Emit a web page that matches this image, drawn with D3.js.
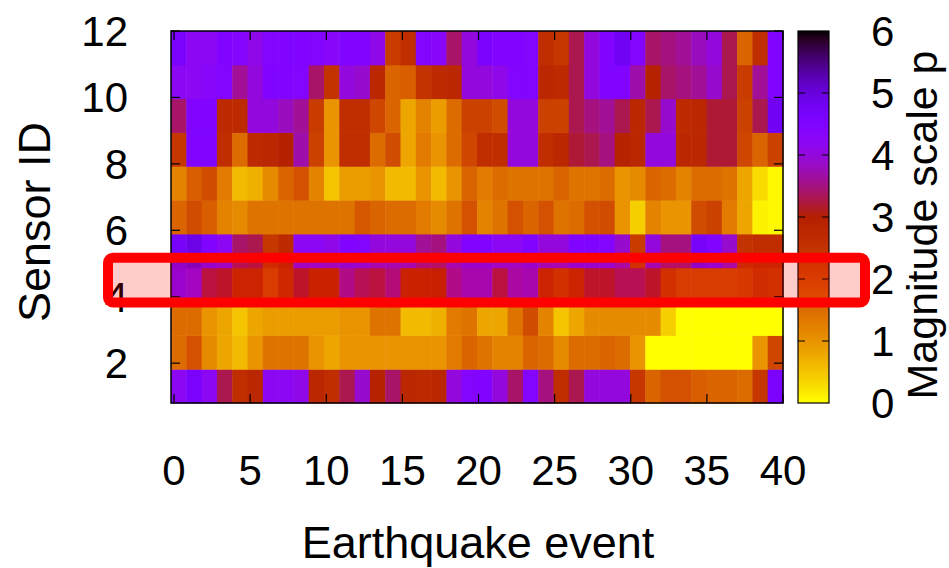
<!DOCTYPE html>
<html>
<head>
<meta charset="utf-8">
<script src="https://cdn.jsdelivr.net/npm/d3@7/dist/d3.min.js"></script>
<style>
  html, body { margin: 0; padding: 0; background: #fff; }
  svg { display: block; }
  text { font-family: "Liberation Sans", Arial, sans-serif; fill: #000; }
</style>
</head>
<body>
<svg id="chart" width="949" height="568"></svg>
<script>
// Earthquake events (columns) and sensor IDs (rows)
const events = d3.range(0, 40);
const sensors = [1, 2, 3, 4, 5, 6, 7, 8, 9, 10, 11];

// Magnitude scale p per sensor, one value per earthquake event
const sensor1 = [4.2,4.6,4.2,3.3,2.6,2.8,4.2,4.2,4.1,2.8, 2.6,3.3,3.9,2.9,3.4,2.8,2.7,2.8,4.0,4.4, 4.5,4.0,3.4,4.4,3.5,2.6,3.3,4.0,4.0,4.0, 2.4,1.6,1.9,1.9,1.7,1.6,1.6,1.5,2.4,4.6];
const sensor2 = [1.5,1.9,1.1,0.8,0.6,1.0,1.4,1.4,1.4,1.0, 0.8,1.0,1.0,1.0,1.0,1.0,1.0,1.0,1.3,1.6, 1.4,1.2,1.2,1.6,1.5,1.1,1.5,1.5,1.6,1.5, 1.0,0.0,0.0,0.0,0.0,0.0,0.0,0.0,1.0,2.1];
const sensor3 = [1.5,1.5,1.0,0.8,0.5,0.8,0.9,0.9,0.9,0.9, 0.9,1.0,1.0,1.4,1.4,0.6,0.6,0.7,1.3,1.4, 0.8,0.8,1.4,2.0,1.2,0.5,0.8,1.1,1.1,1.1, 1.1,1.1,0.4,0.0,0.0,0.0,0.0,0.0,0.0,0.0];
const sensor4 = [4.5,4.2,3.3,3.2,2.6,2.6,2.0,2.5,3.2,2.7, 2.7,3.7,3.4,3.3,3.6,2.7,2.7,2.8,3.7,4.0, 4.0,3.3,3.9,4.0,2.6,2.3,2.6,3.2,3.2,3.4, 3.4,3.2,2.3,2.0,2.0,2.0,2.0,2.1,2.4,2.3];
const sensor5 = [4.7,4.9,4.5,4.2,3.4,3.3,2.4,2.7,4.2,4.2, 4.1,4.5,4.4,4.0,4.0,4.0,3.6,3.5,4.0,4.5, 4.5,4.2,4.2,4.5,4.0,4.0,4.5,4.5,4.4,3.9, 2.3,4.0,3.5,3.5,4.7,4.5,3.9,2.5,2.6,2.6];
const sensor6 = [1.6,2.0,1.7,1.2,1.1,1.4,1.4,1.4,1.4,1.4, 1.4,1.4,1.8,1.6,1.5,1.5,1.3,1.1,1.4,1.9, 1.2,1.4,1.9,1.6,1.9,1.4,1.5,1.9,2.0,1.0, 0.4,1.2,1.0,1.0,2.0,2.2,1.3,0.8,0.1,0.05];
const sensor7 = [1.2,1.7,2.0,1.3,0.6,0.7,1.1,1.6,1.9,1.2, 0.5,0.9,0.9,1.0,0.6,0.6,1.0,0.6,1.0,1.6, 1.3,1.5,1.4,1.4,1.4,1.6,1.4,1.4,1.5,1.0, 1.1,1.6,1.5,1.2,1.5,1.5,1.4,0.8,0.3,0.05];
const sensor8 = [2.4,4.5,4.5,2.6,1.5,2.7,2.8,3.0,3.7,2.2, 1.0,2.6,2.6,1.5,2.0,0.8,1.3,1.0,1.5,2.1, 2.6,2.6,4.0,4.0,2.6,2.8,3.2,3.3,3.5,2.9, 2.8,4.0,4.0,2.8,2.8,3.2,3.2,2.1,1.6,2.2];
const sensor9 = [3.4,4.5,4.5,2.7,2.7,4.0,4.0,3.8,3.6,2.3, 1.0,2.6,2.6,2.1,1.6,0.8,1.2,0.9,1.5,2.2, 2.2,2.0,4.0,4.0,2.2,2.2,3.3,3.5,3.6,3.3, 2.8,3.3,3.9,2.7,2.8,3.2,3.2,2.2,3.3,4.8];
const sensor10 = [4.2,4.2,4.3,4.4,3.6,4.0,4.5,4.5,4.4,3.4, 2.5,4.0,3.9,2.8,1.6,1.7,2.5,2.7,2.8,4.0, 4.0,4.1,4.4,4.4,2.8,2.7,3.3,4.0,4.5,4.5, 3.7,2.9,3.4,3.5,3.6,3.9,3.3,2.3,3.6,4.5];
const sensor11 = [4.6,4.2,4.2,4.5,4.4,4.1,4.4,4.5,4.5,4.4, 4.3,4.5,4.5,4.1,2.3,2.6,4.4,4.3,3.4,4.0, 4.6,4.5,4.5,4.4,2.6,2.4,3.3,4.0,4.5,4.8, 4.4,3.4,3.5,3.6,3.8,4.0,3.3,1.6,2.6,4.5];

// Tick labels
const xTicks = [0, 5, 10, 15, 20, 25, 30, 35, 40];
const yTicks = [2, 4, 6, 8, 10, 12];
const cbTicks = [0, 1, 2, 3, 4, 5, 6];

// Sensor row highlighted by the annotation box
const highlightSensor = 4;

const rows = [sensor1, sensor2, sensor3, sensor4, sensor5, sensor6,
              sensor7, sensor8, sensor9, sensor10, sensor11];
const cells = [];
rows.forEach((vals, r) => vals.forEach((v, c) => cells.push({ sensor: sensors[r], event: events[c], value: v })));

const svg = d3.select("#chart");
const FONT = 42;
const TITLE_FONT = 45;

// Plot frame
const plot = { left: 171, right: 783, top: 31, bottom: 403 };

const x = d3.scaleLinear().domain([-0.2, 40]).range([plot.left, plot.right]);
const y = d3.scaleLinear().domain([0.8, 12]).range([plot.bottom, plot.top]);
const xBand = d3.scaleBand().domain(events).range([plot.left, plot.right]);
const yBand = d3.scaleBand().domain(sensors).range([plot.bottom, plot.top]);

// Reversed gnuplot rgbformulae 7,5,15 palette: yellow -> orange -> red -> violet -> black
const paletteInterp = t => {
  const r = Math.sqrt(t), g = Math.pow(t, 3), b = Math.max(0, Math.sin(2 * Math.PI * t));
  return d3.rgb(r * 255, g * 255, b * 255).toString();
};
const color = d3.scaleSequential(paletteInterp).domain([6, 0]);

// Heatmap cells
svg.append("g").selectAll("rect").data(cells).join("rect")
  .attr("x", d => xBand(d.event))
  .attr("y", d => yBand(d.sensor))
  .attr("width", xBand.bandwidth() + 0.5)
  .attr("height", yBand.bandwidth() + 0.5)
  .attr("fill", d => color(d.value));

// Frame
svg.append("rect")
  .attr("x", plot.left).attr("y", plot.top)
  .attr("width", plot.right - plot.left).attr("height", plot.bottom - plot.top)
  .attr("fill", "none").attr("stroke", "#000").attr("stroke-width", 1.5);

// Inward tick marks on all four sides
const TL = 9;
const tickG = svg.append("g").attr("stroke", "#000").attr("stroke-width", 1.2);
xTicks.forEach(t => {
  tickG.append("line").attr("x1", x(t)).attr("x2", x(t)).attr("y1", plot.bottom).attr("y2", plot.bottom - TL);
  tickG.append("line").attr("x1", x(t)).attr("x2", x(t)).attr("y1", plot.top).attr("y2", plot.top + TL);
});
yTicks.forEach(t => {
  tickG.append("line").attr("x1", plot.left).attr("x2", plot.left + TL).attr("y1", y(t)).attr("y2", y(t));
  tickG.append("line").attr("x1", plot.right).attr("x2", plot.right - TL).attr("y1", y(t)).attr("y2", y(t));
});

// Tick labels
svg.append("g").selectAll("text").data(xTicks).join("text")
  .attr("x", d => x(d)).attr("y", 485)
  .attr("text-anchor", "middle").attr("font-size", FONT)
  .text(d => d);
svg.append("g").selectAll("text").data(yTicks).join("text")
  .attr("x", 128).attr("y", d => y(d) + 15)
  .attr("text-anchor", "end").attr("font-size", FONT)
  .text(d => d);

// Axis titles
svg.append("text").attr("x", 478).attr("y", 558)
  .attr("text-anchor", "middle").attr("font-size", TITLE_FONT)
  .text("Earthquake event");
svg.append("text").attr("transform", "translate(50,222) rotate(-90)")
  .attr("text-anchor", "middle").attr("font-size", TITLE_FONT)
  .text("Sensor ID");

// Colour bar
const cb = { left: 798, right: 829, top: 31, bottom: 403 };
const cbY = d3.scaleLinear().domain([0, 6]).range([cb.bottom, cb.top]);
const grad = svg.append("defs").append("linearGradient")
  .attr("id", "cbgrad").attr("x1", 0).attr("y1", 1).attr("x2", 0).attr("y2", 0);
d3.range(0, 6.001, 0.1).forEach(v => {
  grad.append("stop").attr("offset", v / 6).attr("stop-color", color(v));
});
svg.append("rect")
  .attr("x", cb.left).attr("y", cb.top)
  .attr("width", cb.right - cb.left).attr("height", cb.bottom - cb.top)
  .attr("fill", "url(#cbgrad)").attr("stroke", "#000").attr("stroke-width", 1.2);
const cbTickG = svg.append("g").attr("stroke", "#000").attr("stroke-width", 1);
cbTicks.filter(t => t > 0 && t < 6).forEach(t => {
  cbTickG.append("line").attr("x1", cb.left).attr("x2", cb.left + 7).attr("y1", cbY(t)).attr("y2", cbY(t));
  cbTickG.append("line").attr("x1", cb.right).attr("x2", cb.right - 7).attr("y1", cbY(t)).attr("y2", cbY(t));
});
svg.append("g").selectAll("text").data(cbTicks).join("text")
  .attr("x", 871).attr("y", d => cbY(d) + 15)
  .attr("text-anchor", "start").attr("font-size", FONT)
  .text(d => d);
svg.append("text").attr("transform", "translate(937,225) rotate(-90)")
  .attr("text-anchor", "middle").attr("font-size", 43)
  .text("Magnitude scale p");

// Highlight box around one sensor row
const hy0 = yBand(highlightSensor);
svg.append("rect")
  .attr("x", 108).attr("y", hy0 - 10)
  .attr("width", 865 - 108).attr("height", yBand.bandwidth() + 11)
  .attr("rx", 5).attr("ry", 5)
  .attr("fill", "rgba(255,0,0,0.2)")
  .attr("stroke", "#ff0000").attr("stroke-width", 10);
</script>
</body>
</html>
